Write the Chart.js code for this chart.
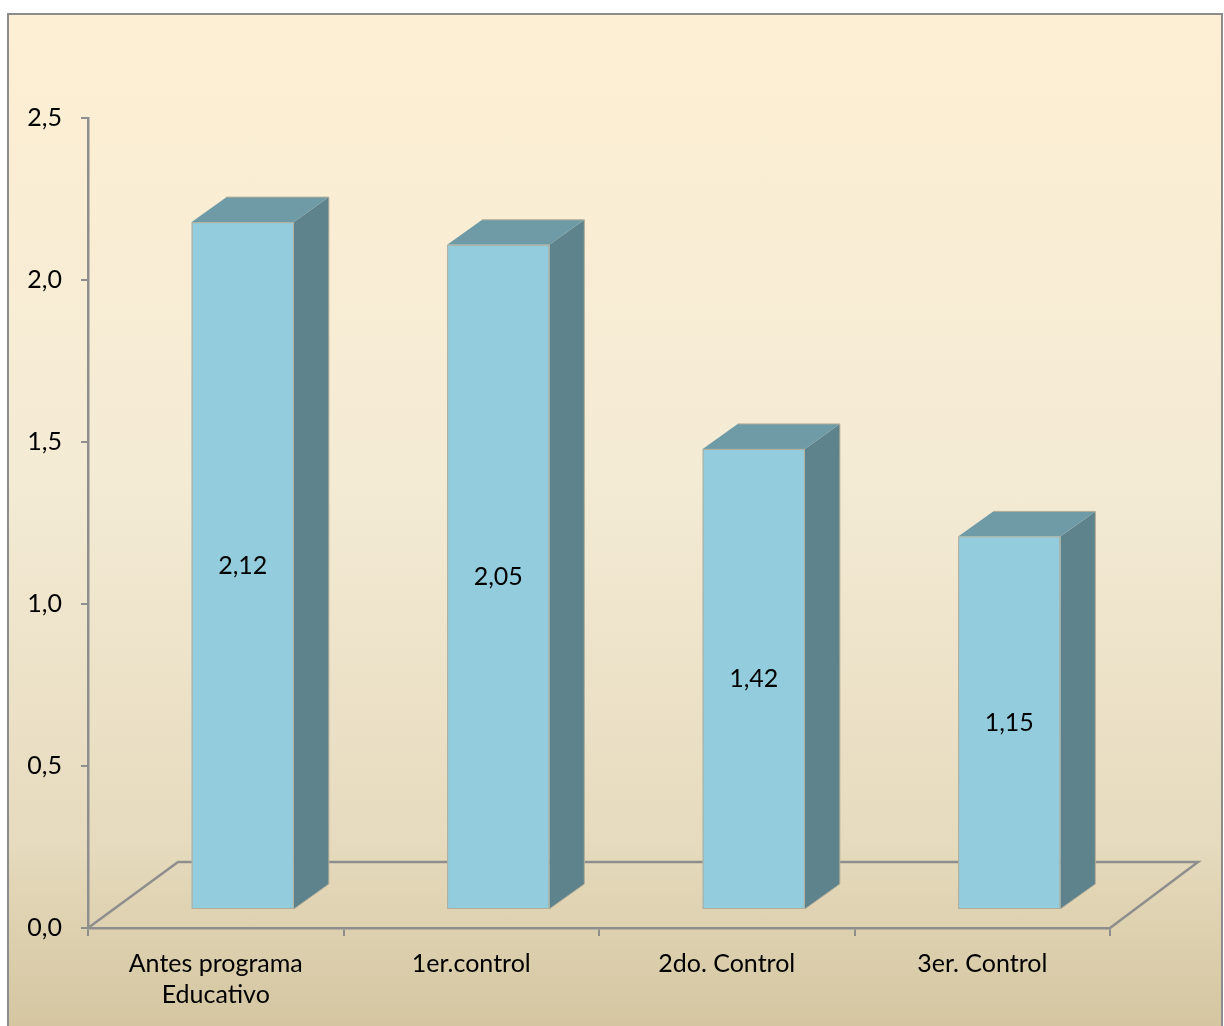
<!DOCTYPE html>
<html>
<head>
<meta charset="utf-8">
<script src="https://cdn.jsdelivr.net/npm/chart.js@4.4.1/dist/chart.umd.min.js"></script>
<style>
  html, body { margin: 0; padding: 0; background: #fff; }
  #frame {
    position: absolute; left: 7px; top: 13px; width: 1212px; height: 1030px;
    border: 2px solid #8c8c8c;
    background: linear-gradient(to bottom, #fdefd3 0%, #f4ebd5 45%, #e6dbbe 80%, #d3c49e 100%);
  }
  #wrap { position: absolute; left: 0; top: 0; width: 1224px; height: 1026px; }
</style>
</head>
<body>
<div id="frame"></div>
<div id="wrap"><canvas id="myChart" width="1224" height="1026"></canvas></div>
<script>
const categories = [["Antes programa", "Educativo"], "1er.control", "2do. Control", "3er. Control"];
const values = [2.12, 2.05, 1.42, 1.15];
const yTicks = [0, 0.5, 1, 1.5, 2, 2.5];

const FONT = "Lato, 'Noto Sans', sans-serif";
const fmt = (v, d) => v.toFixed(d).replace('.', ',');

// fake 3d: bar is pushed into the floor, depth goes up-right
const bar3d = {
    id: 'bar3d',
    beforeDatasetsDraw(chart) {
        const { ctx, chartArea: a } = chart;
        ctx.save();
        ctx.strokeStyle = '#8e8e8e';
        ctx.lineWidth = 2.5;
        ctx.beginPath();
        ctx.moveTo(a.left, a.bottom);
        ctx.lineTo(a.left + 90, a.bottom - 66);
        ctx.lineTo(a.right + 88, a.bottom - 66);
        ctx.lineTo(a.right, a.bottom);
        ctx.stroke();
        ctx.restore();
    },
    afterDatasetsDraw(chart) {
        const { ctx } = chart;
        const meta = chart.getDatasetMeta(0);
        const dx = 35, dy = -25;
        ctx.save();
        meta.data.forEach((el, i) => {
            const p = el.getProps(['x', 'y', 'base', 'width'], true);
            const l = p.x - p.width / 2 + 27, r = l + p.width;
            const t = p.y - 19, b = p.base - 18;
            ctx.lineWidth = 1;
            ctx.strokeStyle = '#b3ad98';
            // side
            ctx.fillStyle = '#5e838c';
            ctx.beginPath();
            ctx.moveTo(r, t); ctx.lineTo(r + dx, t + dy); ctx.lineTo(r + dx, b + dy); ctx.lineTo(r, b);
            ctx.closePath(); ctx.fill();
            // top
            ctx.fillStyle = '#6f9ba7';
            ctx.beginPath();
            ctx.moveTo(l, t); ctx.lineTo(l + dx, t + dy); ctx.lineTo(r + dx, t + dy); ctx.lineTo(r, t);
            ctx.closePath(); ctx.fill();
            // front
            ctx.fillStyle = '#93cddd';
            ctx.fillRect(l, t, p.width, b - t);
            ctx.strokeRect(l + 0.5, t + 0.5, p.width - 1, b - t - 1);
            ctx.beginPath();
            ctx.moveTo(r, b); ctx.lineTo(r + dx, b + dy); ctx.lineTo(r + dx, t + dy); ctx.lineTo(l + dx, t + dy);
            ctx.stroke();
            // value label
            ctx.fillStyle = '#000';
            ctx.font = '25px ' + FONT;
            ctx.textAlign = 'center';
            ctx.textBaseline = 'middle';
            ctx.fillText(fmt(values[i], 2), (l + r) / 2, (t + b) / 2);
        });
        ctx.restore();
    }
};

new Chart(document.getElementById('myChart'), {
    type: 'bar',
    data: {
        labels: categories,
        datasets: [{
            data: values,
            backgroundColor: 'rgba(0,0,0,0)',
            borderWidth: 0,
            categoryPercentage: 1,
            barPercentage: 0.4
        }]
    },
    options: {
        responsive: false,
        animation: false,
        layout: { padding: { top: 118, right: 114, left: 0, bottom: 0 } },
        scales: {
            x: {
                grid: { offset: true, drawOnChartArea: false, tickLength: 8, color: '#8e8e8e', lineWidth: 2 },
                border: { color: '#8e8e8e', width: 2.5 },
                ticks: { color: '#000', font: { family: FONT, size: 25, lineHeight: 1.25 }, padding: 12, maxRotation: 0 },
                afterFit: s => { s.height = 98; }
            },
            y: {
                min: 0,
                max: 2.5,
                afterBuildTicks: s => { s.ticks = yTicks.map(v => ({ value: v })); },
                grid: { drawOnChartArea: false, tickLength: 7, color: '#8e8e8e', lineWidth: 2 },
                border: { color: '#8e8e8e', width: 2.5 },
                ticks: { color: '#000', font: { family: FONT, size: 25 }, padding: 19, callback: v => fmt(v, 1) },
                afterFit: s => { s.width = 88; }
            }
        },
        plugins: {
            legend: { display: false },
            tooltip: { enabled: false }
        }
    },
    plugins: [bar3d]
});
</script>
</body>
</html>
